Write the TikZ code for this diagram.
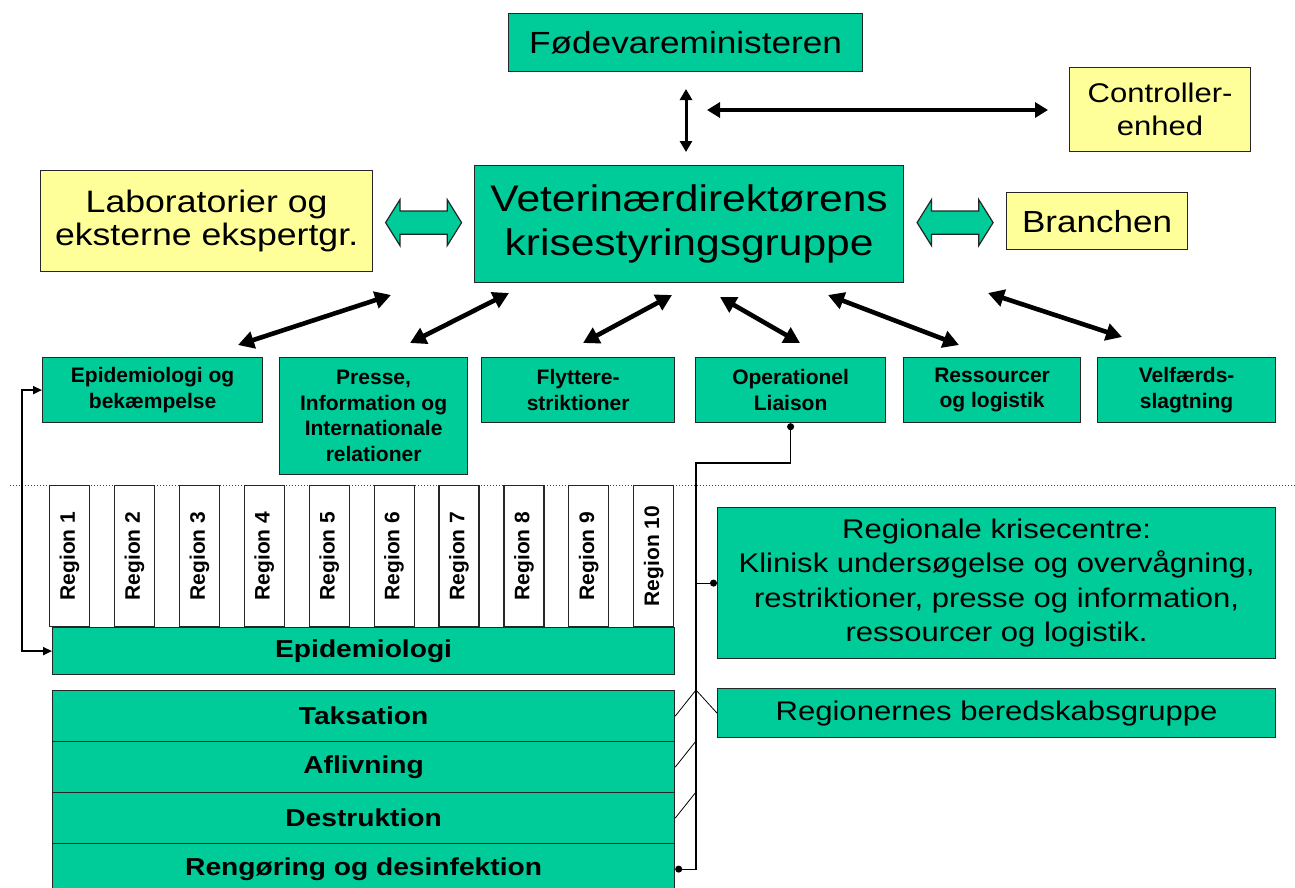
\documentclass[tikz,border=0pt]{standalone}
\usepackage{fontspec}
\setmainfont{Liberation Sans}[FakeStretch=1.15]
\newfontfamily\plainfont{Liberation Sans}
\usepackage{tikz}
\usetikzlibrary{shapes,arrows,arrows.meta,calc}
\usepackage{xcolor}
\definecolor{kgreen}{RGB}{0,204,153}
\definecolor{kyellow}{RGB}{255,255,153}
\tikzset{
	gbox/.style={draw=black!85, line width=1.2pt, fill=kgreen, anchor=north west, inner sep=0pt, align=center},
	ybox/.style={gbox, fill=kyellow},
	rbox/.style={gbox, fill=white},
	bigarrow/.style={<->, >={Triangle[length=16pt,width=17pt]}, line width=4.6pt},
	hollow/.style={double arrow, draw=black!85, line width=1.2pt, fill=kgreen, inner xsep=0pt, inner ysep=11pt, double arrow head extend=11.5pt, double arrow tip angle=116, minimum height=76pt},
	link/.style={line width=1.2pt},
}

\begin{document}
\begin{tikzpicture}[x=1pt,y=-1pt]
		\useasboundingbox (0,0) rectangle (1295,887);
		\def\tfont{\fontsize{21}{25.5}\plainfont\bfseries\selectfont}
		\def\bfont{\fontsize{24.5}{29}\bfseries\selectfont}
		% top
		\node[gbox, minimum width=354pt, minimum height=58pt, font=\fontsize{30.6}{36}\selectfont] (minister) at (508,13) {Fødevareministeren};
		\node[ybox, minimum width=181pt, minimum height=84pt, font=\fontsize{27}{33}\selectfont] (controller) at (1069,67) {Controller-\\enhed};
		\node[gbox, minimum width=429pt, minimum height=117pt, font=\fontsize{37}{44}\selectfont] (vet) at (474,165) {Veterinærdirektørens\\krisestyringsgruppe};
		\node[ybox, minimum width=332pt, minimum height=101pt, font=\fontsize{31}{33}\selectfont] (lab) at (40,170) {Laboratorier og\\eksterne ekspertgr.};
		\node[ybox, minimum width=181pt, minimum height=57pt, font=\fontsize{30.5}{36}\selectfont] (branchen) at (1006,192) {Branchen};
		\node[hollow] (labvet) at ($(lab.east)!0.5!(vet.west)$) {};
		\node[hollow] (vetbranchen) at ($(vet.east)!0.5!(branchen.west)$) {};
		\coordinate (mtop) at (686,89);
		\coordinate (mbot) at (686,152);
		\draw[<->, >={Triangle[length=11pt,width=12pt]}, line width=3pt] (mtop) -- (mbot);
		\coordinate (cleft) at (707,110);
		\coordinate (cright) at (1048,110);
		\draw[<->, >={Triangle[length=13pt,width=15pt]}, line width=4.5pt] (cleft) -- (cright);
		% groups
		\node[gbox, minimum width=220pt, minimum height=65pt, font=\tfont] (epi) at (42,357) {Epidemiologi og\\bekæmpelse};
		\node[gbox, minimum width=188pt, minimum height=117pt, font=\tfont] (presse) at (279,357) {Presse,\\Information og\\Internationale\\relationer};
		\node[gbox, minimum width=193pt, minimum height=65pt, font=\tfont] (flytte) at (481,357) {Flyttere-\\striktioner};
		\node[gbox, minimum width=190pt, minimum height=65pt, font=\tfont] (liaison) at (695,357) {Operationel\\Liaison};
		\node[gbox, minimum width=177pt, minimum height=65pt, font=\tfont] (ressourcer) at (903,357) {Ressourcer\\og logistik};
		\node[gbox, minimum width=178pt, minimum height=65pt, font=\tfont] (velfaerd) at (1097,357) {Velfærds-\\slagtning};
		\foreach \n/\xa/\ya/\xb/\yb in {1/238/345/391/295, 2/410/343/509/293, 3/583/343/672/295, 4/800/343/720/297, 5/959/345/828/295, 6/1122/337/988/293}
		{
			\coordinate (lo\n) at (\xa,\ya);
			\coordinate (hi\n) at (\xb,\yb);
			\draw[bigarrow] (lo\n) -- (hi\n);
		}
		\draw[dash pattern=on 1.2pt off 1.8pt, line width=1pt, black!75] (10,485) -- (1295,485);
		% regions
		\foreach \i in {1,...,10}
			\node[rbox, minimum width=40pt, minimum height=141pt, font=\fontsize{21}{24}\plainfont\bfseries\selectfont] (r\i) at ({49+64.9*(\i-1)},485) {\rotatebox{90}{Region \i}};
		\node[gbox, minimum width=622pt, minimum height=47pt, font=\bfont] (epiband) at (52,627) {Epidemiologi};
		\node[gbox, minimum width=622pt, minimum height=51pt, font=\bfont] (taks) at (52,690) {Taksation};
		\node[gbox, minimum width=622pt, minimum height=51pt, font=\bfont] (aflivning) at (52,741) {Aflivning};
		\node[gbox, minimum width=622pt, minimum height=51pt, font=\bfont] (destruktion) at (52,792) {Destruktion};
		\node[gbox, minimum width=622pt, minimum height=51pt, font=\bfont] (rengoering) at (52,843) {Rengøring og desinfektion};
		\node[gbox, minimum width=558pt, minimum height=151pt, font=\fontsize{27}{34.5}\selectfont] (regionale) at (717,507) {Regionale krisecentre:\\Klinisk undersøgelse og overvågning,\\restriktioner, presse og information,\\ressourcer og logistik.};
		\node[gbox, minimum width=558pt, minimum height=49pt, font=\fontsize{27}{32}\selectfont] (beredskab) at (717,688) {Regionernes beredskabsgruppe};
		% links
		\draw[<->, >={Triangle[length=9pt,width=8pt]}, line width=2pt] (epi.west) -- ++(-20,0) |- (epiband.west);
		\coordinate (trunk) at (696,463);
		\draw[link, {Circle[length=7pt]}-{Circle[length=7pt]}] (liaison.south) |- (trunk) |- (rengoering.east);
		\draw[link, -{Circle[length=7pt]}] (trunk |- regionale.west) -- (regionale.west);
		\draw[line width=0.8pt] (taks.east) -- (trunk |- taks.north) -- (beredskab.west);
		\draw[line width=0.8pt] (aflivning.east) -- (trunk |- aflivning.north);
		\draw[line width=0.8pt] (destruktion.east) -- (trunk |- destruktion.north);
		\end{tikzpicture}
\end{document}
